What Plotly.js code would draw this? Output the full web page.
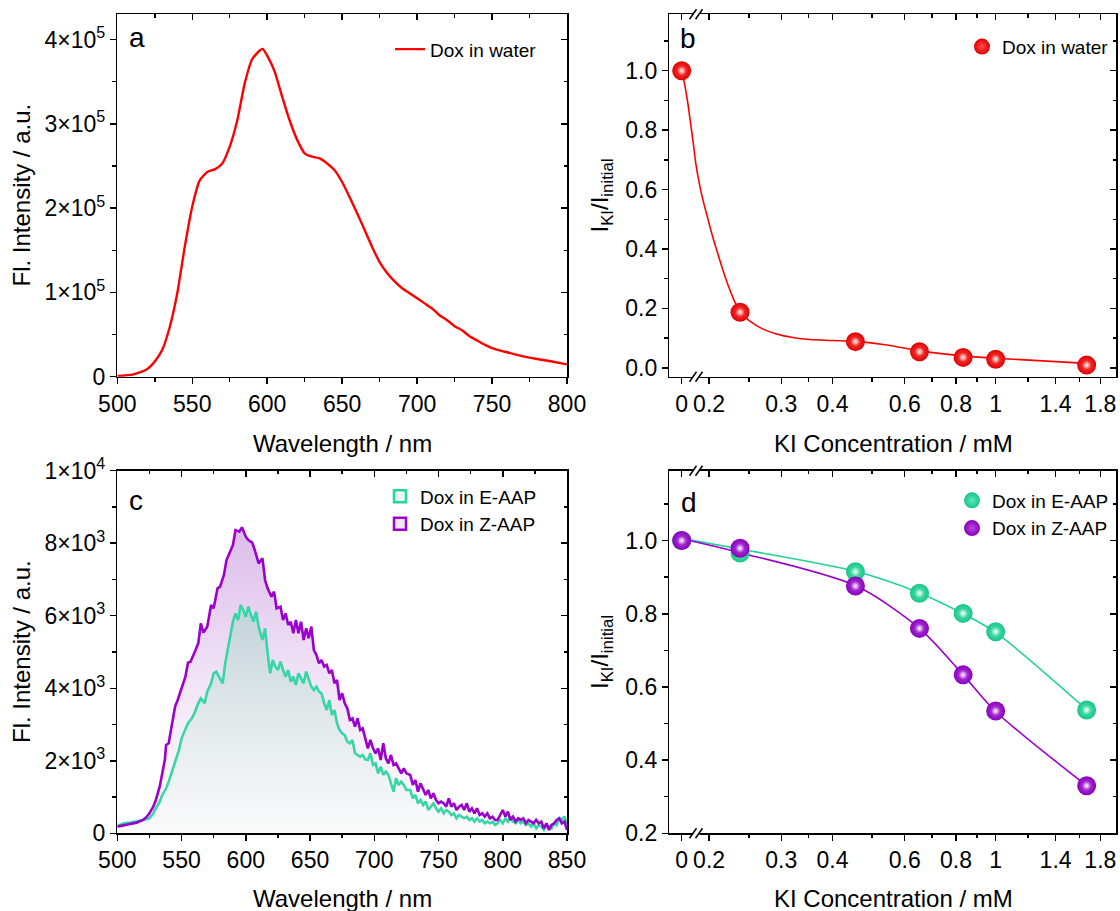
<!DOCTYPE html>
<html><head><meta charset="utf-8">
<script src="https://cdn.plot.ly/plotly-3.0.1.min.js"></script>
<style>html,body{margin:0;padding:0;background:#fff}#chart{width:1120px;height:911px}</style>
</head><body><div id="chart"></div>
<script>
// ---------------- DATA ----------------
// Panel a: Dox in water emission spectrum
const WL_A = [500,505,510,515,520,525,530,535,540,545,550,555,560,565,570,575,580,585,590,595,597,600,605,610,615,620,625,630,635,640,645,650,655,660,665,670,675,680,685,690,695,700,705,710,715,720,725,730,735,740,745,750,760,770,780,790,800];
const FL_WATER = [1000,1500,2400,5000,9000,18000,32000,59000,99000,154000,202000,233000,243000,246000,253000,273000,304000,348000,377000,387000,389000,381000,362000,332000,304000,281000,265000,261000,259000,253000,245000,231000,213000,194000,174000,154000,136000,123000,113000,105000,99000,93000,87000,81000,73000,67000,60000,55000,48000,43000,38000,34000,29000,24500,21000,18000,14600];

// Panel c: Dox in Z-AAP / E-AAP spectra
const WL_Z = [500,505,510,515,520,523,525,528,530,533,535,537,538,540,542,545,547,550,553,555,557,560,563,565,567,570,573,575,578,580,583,585,587,590,592,595,597,600,602,605,607,610,
613,615,617,620,622,624,627,629,631,633,635,637,639,641,643,645,647,649,651,653,655,657,659,661,663,665,667,669,671,673,675,677,679,681,683,685,687,689,691,693,695,697,699,701,703,705,707,709,711,713,715,717,719,721,723,725,
728,730,732,734,736,738,740,742,744,746,748,750,752,754,756,758,760,762,764,766,768,770,772,774,776,778,780,782,784,786,788,790,792,794,796,798,800,802,804,806,808,810,812,814,816,818,820,822,824,826,828,830,832,834,836,838,840,842,844,846,848,850];
const FL_Z_AAP = [184,230,257,294,368,460,551,735,919,1287,1700,2022,2436,2482,2895,3493,3676,3998,4320,4706,4733,4982,5239,5790,5533,5699,6296,6204,6756,6801,7123,7537,7721,7950,8364,8318,8438,8180,8088,8015,7812,7445,
7583,6985,6756,6526,6664,6204,6250,5882,6066,5744,5836,5515,5882,5515,5836,5331,5653,5377,5699,5055,4917,4688,4779,4596,4642,4412,4504,4136,4228,3676,3860,3585,3447,3125,3171,2941,3171,2849,2895,2574,2344,2574,2344,2206,2344,2022,2482,2068,1930,2160,1884,1930,1792,1654,1792,1654,
1608,1333,1470,1149,1379,1195,1057,1195,965,1103,919,827,873,827,735,965,735,827,643,735,781,643,827,597,689,551,689,505,551,460,551,414,460,368,368,505,643,460,597,368,460,322,414,368,414,276,368,322,276,368,276,322,138,276,92,230,276,368,414,276,322,92];

const WL_E = [500,505,510,515,520,523,525,528,530,533,535,538,540,543,545,548,550,553,555,558,560,563,565,568,570,573,575,577,580,582,584,586,588,590,592,594,596,598,600,602,604,606,608,610,
613,615,617,619,621,623,625,627,629,631,633,635,637,639,641,643,645,647,649,651,653,655,657,659,661,663,665,667,669,671,673,675,677,679,681,683,685,687,689,691,693,695,697,699,701,703,705,707,709,711,713,715,717,719,721,723,725,
728,730,732,734,736,738,740,742,744,746,748,750,752,754,756,758,760,762,764,766,768,770,772,774,776,778,780,782,784,786,788,790,792,794,796,798,800,802,804,806,808,810,812,814,816,818,820,822,824,826,828,830,832,834,836,838,840,842,844,846,848,850];
const FL_E_AAP = [202,276,294,322,368,386,414,551,689,873,1057,1241,1425,1746,2022,2298,2619,2849,3033,3171,3309,3585,3722,3585,3906,4136,4412,4458,4274,4136,4688,5055,5469,5837,6066,5882,6296,6158,5974,6250,6020,5837,6112,5699,
5331,5653,4963,4412,4779,4596,4504,4733,4504,4320,4504,4182,4320,4090,4412,4274,4136,4458,4228,4044,3952,4044,3906,3860,3585,3401,3676,3263,3401,3033,2849,2757,2711,2527,2482,2574,2206,2160,2114,2160,2040,2022,2206,1884,1930,1654,1838,1608,1700,1608,1379,1149,1517,1333,1425,1333,1195,
1195,965,1057,827,919,781,873,643,735,827,689,597,689,551,643,597,505,551,414,505,460,414,460,368,414,322,414,322,368,276,322,276,322,230,276,368,276,414,322,460,322,276,368,276,322,230,276,184,276,138,230,184,92,230,184,138,276,230,414,368,460,276];

// Panels b, d: quenching by KI
const KI_CONC = [0, 0.238, 0.455, 0.652, 0.833, 1.0, 1.667];   // mM
const Q_WATER = [1.0, 0.187, 0.088, 0.054, 0.035, 0.029, 0.009];
const Q_E_AAP = [1.0, 0.966, 0.915, 0.856, 0.801, 0.751, 0.537];
const Q_Z_AAP = [1.0, 0.979, 0.876, 0.760, 0.633, 0.534, 0.330];
// fitted curves (x on the broken log axis)
const FIT_B_X = [0.1715, 0.174, 0.177, 0.180, 0.183, 0.186, 0.190, 0.194, 0.198, 0.204, 0.210, 0.216, 0.2224, 0.230, 0.238, 0.252, 0.270, 0.292, 0.320, 0.353, 0.400, 0.455, 0.543, 0.652, 0.833, 1.0, 1.667];
const FIT_B_Y = [1.0, 0.960, 0.902, 0.830, 0.756, 0.680, 0.610, 0.555, 0.509, 0.442, 0.385, 0.330, 0.279, 0.228, 0.189, 0.156, 0.131, 0.114, 0.102, 0.095, 0.092, 0.089, 0.077, 0.057, 0.040, 0.032, 0.015];
const FIT_D_E = [1.006, 0.977, 0.916, 0.857, 0.800, 0.749, 0.538];
const FIT_D_Z = [1.005, 0.967, 0.877, 0.760, 0.633, 0.533, 0.330];

// broken axis: the "0" concentration is drawn at this position of the log axis
const ZERO_POS = 0.1715;
const KI_TICK_VALS = [ZERO_POS, 0.2, 0.3, 0.4, 0.6, 0.8, 1, 1.4, 1.8];
const KI_TICK_TEXT = ['0', '0.2', '0.3', '0.4', '0.6', '0.8', '1', '1.4', '1.8'];
const KI_MINOR = [0.25, 0.35, 0.5, 0.7, 0.9, 1.2, 1.6];

const YA_TICKS = [0, 100000, 200000, 300000, 400000];
const YA_TEXT = ['0', '1×10<sup>5</sup>', '2×10<sup>5</sup>', '3×10<sup>5</sup>', '4×10<sup>5</sup>'];
const YC_TICKS = [0, 2000, 4000, 6000, 8000, 10000];
const YC_TEXT = ['0', '2×10<sup>3</sup>', '4×10<sup>3</sup>', '6×10<sup>3</sup>', '8×10<sup>3</sup>', '1×10<sup>4</sup>'];

// ---------------- LAYOUT HELPERS ----------------
const W = 1120, H = 911;
const PX = p => p / W, PY = p => 1 - p / H;
const FONT = 'Liberation Sans, Arial, sans-serif';
const DOM_L = [PX(117.3), PX(567)], DOM_R = [PX(669.3), PX(1116)];
const DOM_T = [PY(376.7), PY(14.3)], DOM_B = [PY(833.3), PY(470.7)];
const KI_RANGE = [-0.796, -0.796 + (1116 - 669.3) / 410];
const kiPos = c => c === 0 ? ZERO_POS : c;
const KI_X = KI_CONC.map(kiPos);

function mainAxis(extra) {
  return Object.assign({
    showline: true, linecolor: '#000', linewidth: 1.5, mirror: true,
    ticks: 'outside', ticklen: 6, tickwidth: 1.5, tickcolor: '#000',
    showgrid: false, zeroline: false, fixedrange: true, layer: 'above traces',
    tickfont: {family: FONT, size: 23, color: '#000'}
  }, extra);
}
function mirAxis(extra) {
  return Object.assign({
    showline: false, ticks: 'inside', ticklen: 6, tickwidth: 1.5, tickcolor: '#000',
    showticklabels: false, showgrid: false, zeroline: false, fixedrange: true
  }, extra);
}
const minorOut = vals => ({ticks: 'outside', ticklen: 3.5, tickwidth: 1.5, tickcolor: '#000', tickmode: 'array', tickvals: vals});
const minorIn = vals => ({ticks: 'inside', ticklen: 3.5, tickwidth: 1.5, tickcolor: '#000', tickmode: 'array', tickvals: vals});

const XA_MINOR = [525, 575, 625, 675, 725, 775];
const XC_MINOR = [525, 575, 625, 675, 725, 775, 825];
const YA_MINOR = [50000, 150000, 250000, 350000];
const YC_MINOR = [1000, 3000, 5000, 7000, 9000];
const YB_MINOR = [0.1, 0.3, 0.5, 0.7, 0.9, 1.1];
const YD_MINOR = [0.3, 0.5, 0.7, 0.9, 1.1];

const xa = {range: [500, 800], tickmode: 'array', tickvals: [500, 550, 600, 650, 700, 750, 800]};
const ya = {range: [0, 430000], tickmode: 'array', tickvals: YA_TICKS, ticktext: YA_TEXT};
const xb = {type: 'log', range: KI_RANGE, tickmode: 'array', tickvals: KI_TICK_VALS, ticktext: KI_TICK_TEXT};
const yb = {range: [-0.03, 1.19], tickmode: 'array', tickvals: [0, 0.2, 0.4, 0.6, 0.8, 1.0], ticktext: ['0.0', '0.2', '0.4', '0.6', '0.8', '1.0']};
const xc = {range: [500, 850], tickmode: 'array', tickvals: [500, 550, 600, 650, 700, 750, 800, 850]};
const yc = {range: [0, 10000], tickmode: 'array', tickvals: YC_TICKS, ticktext: YC_TEXT};
const yd = {range: [0.2, 1.191], tickmode: 'array', tickvals: [0.2, 0.4, 0.6, 0.8, 1.0], ticktext: ['0.2', '0.4', '0.6', '0.8', '1.0']};

const LEG = {xanchor: 'left', yanchor: 'middle', bgcolor: 'rgba(0,0,0,0)', font: {size: 19, family: FONT, color: '#000'}, tracegroupgap: 0};
const layout = {
  width: W, height: H, margin: {l: 0, r: 0, t: 0, b: 0},
  paper_bgcolor: '#fff', plot_bgcolor: 'rgba(0,0,0,0)',
  font: {family: FONT, color: '#000'},
  xaxis:  mainAxis(Object.assign({domain: DOM_L, anchor: 'y',  minor: minorOut(XA_MINOR)}, xa)),
  yaxis:  mainAxis(Object.assign({domain: DOM_T, anchor: 'x',  minor: minorOut(YA_MINOR)}, ya)),
  xaxis2: mainAxis(Object.assign({domain: DOM_R, anchor: 'y2', minor: minorOut(KI_MINOR)}, xb)),
  yaxis2: mainAxis(Object.assign({domain: DOM_T, anchor: 'x2', minor: minorOut(YB_MINOR)}, yb)),
  xaxis3: mainAxis(Object.assign({domain: DOM_L, anchor: 'y3', minor: minorOut(XC_MINOR)}, xc)),
  yaxis3: mainAxis(Object.assign({domain: DOM_B, anchor: 'x3', minor: minorOut(YC_MINOR)}, yc)),
  xaxis4: mainAxis(Object.assign({domain: DOM_R, anchor: 'y4', minor: minorOut(KI_MINOR)}, xb)),
  yaxis4: mainAxis(Object.assign({domain: DOM_B, anchor: 'x4', minor: minorOut(YD_MINOR)}, yd)),
  // mirrored axes with inward ticks (top / right)
  xaxis5: mirAxis(Object.assign({overlaying: 'x',  anchor: 'y',  side: 'top',   minor: minorIn(XA_MINOR)}, xa)),
  yaxis5: mirAxis(Object.assign({overlaying: 'y',  anchor: 'x',  side: 'right', minor: minorIn(YA_MINOR)}, ya)),
  xaxis6: mirAxis(Object.assign({overlaying: 'x2', anchor: 'y2', side: 'top',   minor: minorIn(KI_MINOR)}, xb)),
  yaxis6: mirAxis(Object.assign({overlaying: 'y2', anchor: 'x2', side: 'right', minor: minorIn(YB_MINOR)}, yb)),
  xaxis7: mirAxis(Object.assign({overlaying: 'x3', anchor: 'y3', side: 'top',   minor: minorIn(XC_MINOR)}, xc)),
  yaxis7: mirAxis(Object.assign({overlaying: 'y3', anchor: 'x3', side: 'right', minor: minorIn(YC_MINOR)}, yc)),
  xaxis8: mirAxis(Object.assign({overlaying: 'x4', anchor: 'y4', side: 'top',   minor: minorIn(KI_MINOR)}, xb)),
  yaxis8: mirAxis(Object.assign({overlaying: 'y4', anchor: 'x4', side: 'right', minor: minorIn(YD_MINOR)}, yd)),
  showlegend: true,
  legend:  Object.assign({x: PX(390), y: PY(49.3)}, LEG),
  legend2: Object.assign({x: PX(962), y: PY(46.7)}, LEG),
  legend3: Object.assign({x: PX(380), y: PY(510.3)}, LEG),
  legend4: Object.assign({x: PX(952), y: PY(514.5)}, LEG),
  annotations: [],
  shapes: []
};

// panel letters
[['a', 127, 37], ['b', 678, 38.5], ['c', 127, 500], ['d', 679, 502]].forEach(([t, x, y]) => {
  layout.annotations.push({text: t, xref: 'paper', yref: 'paper', x: PX(x), y: PY(y), xanchor: 'left', yanchor: 'middle',
    showarrow: false, font: {size: 28, family: FONT, color: '#000'}});
});
// axis titles
function title(text, x, y, angle) {
  layout.annotations.push({text: text, xref: 'paper', yref: 'paper', x: PX(x), y: PY(y), xanchor: 'center', yanchor: 'middle',
    textangle: angle || 0, showarrow: false, font: {size: 24, family: FONT, color: '#000'}});
}
title('Wavelength / nm', 342, 443);
title('Fl. Intensity / a.u.', 21, 195.5, -90);
title('KI Concentration / mM', 893, 443);
title('I<sub>KI</sub>/I<sub>initial</sub>', 601, 195.5, -90);
title('Wavelength / nm', 342, 898);
title('Fl. Intensity / a.u.', 21, 652, -90);
title('KI Concentration / mM', 893, 898);
title('I<sub>KI</sub>/I<sub>initial</sub>', 601, 652, -90);

// axis-break marks
function brk(yp) {
  layout.shapes.push({type: 'rect', xref: 'paper', yref: 'paper', x0: PX(693), x1: PX(699.5), y0: PY(yp + 2.5), y1: PY(yp - 2.5),
    fillcolor: '#fff', line: {width: 0}, layer: 'above'});
  [[689.5, 696.5], [695.5, 702.5]].forEach(([a, b]) => {
    layout.shapes.push({type: 'line', xref: 'paper', yref: 'paper', x0: PX(a), x1: PX(b), y0: PY(yp + 5), y1: PY(yp - 5),
      line: {color: '#000', width: 1.5}, layer: 'above'});
  });
}
brk(14.3); brk(376.7); brk(470.7); brk(833.3);

// ---------------- TRACES ----------------
const RED = '#ff0000', TEAL = '#36d6a6', PURPLE = '#9b00cc', GREEN = '#22d394';
// glossy ball: radial gradient (gradient.color = centre colour) plus a small soft highlight
function ball(x, y, xa_, ya_, edge, centre, name, leg) {
  return [{
    type: 'scatter', mode: 'markers', x: x, y: y, xaxis: xa_, yaxis: ya_, name: name, legend: leg,
    marker: {size: 19, color: edge, gradient: {type: 'radial', color: centre}, line: {width: 0}}, hoverinfo: 'skip'
  }, {
    type: 'scatter', mode: 'markers', x: x, y: y, xaxis: xa_, yaxis: ya_, showlegend: false,
    marker: {size: 9, color: 'rgba(255,255,255,0)', gradient: {type: 'radial', color: 'rgba(255,255,255,0.95)'}, line: {width: 0}}, hoverinfo: 'skip'
  }];
}

const traces = [];
// panel a
traces.push({type: 'scatter', mode: 'lines', x: WL_A, y: FL_WATER, xaxis: 'x', yaxis: 'y', name: 'Dox in water', legend: 'legend',
  line: {color: RED, width: 2.4, shape: 'spline', smoothing: 0.5}});
// panel b
traces.push({type: 'scatter', mode: 'lines', x: FIT_B_X, y: FIT_B_Y, xaxis: 'x2', yaxis: 'y2', showlegend: false,
  line: {color: RED, width: 1.6, shape: 'spline', smoothing: 1}});
traces.push(...ball(KI_X, Q_WATER, 'x2', 'y2', '#e00000', '#ff4a4a', 'Dox in water', 'legend2'));
// panel c
traces.push({type: 'scatter', mode: 'lines', x: WL_Z, y: FL_Z_AAP, xaxis: 'x3', yaxis: 'y3', showlegend: false, fill: 'tozeroy',
  line: {width: 0}, fillgradient: {type: 'vertical', colorscale: [[0, '#ffffff'], [0.5, '#f1e4f7'], [1, '#dcbdea']]}});
traces.push({type: 'scatter', mode: 'lines', x: WL_E, y: FL_E_AAP, xaxis: 'x3', yaxis: 'y3', showlegend: false, fill: 'tozeroy',
  line: {width: 0}, fillgradient: {type: 'vertical', colorscale: [[0, '#fbfbfb'], [0.5, '#e2e9eb'], [1, '#c2d3da']]}});
traces.push({type: 'scatter', mode: 'lines', x: WL_E, y: FL_E_AAP, xaxis: 'x3', yaxis: 'y3', showlegend: false,
  line: {color: TEAL, width: 2.6}});
traces.push({type: 'scatter', mode: 'lines', x: WL_Z, y: FL_Z_AAP, xaxis: 'x3', yaxis: 'y3', showlegend: false,
  line: {color: PURPLE, width: 2.6}});
traces.push({type: 'scatter', mode: 'markers', x: [null], y: [null], xaxis: 'x3', yaxis: 'y3', name: 'Dox in E-AAP', legend: 'legend3',
  marker: {symbol: 'square', size: 12, color: '#eaf7f2', line: {color: '#22d69c', width: 2.5}}});
traces.push({type: 'scatter', mode: 'markers', x: [null], y: [null], xaxis: 'x3', yaxis: 'y3', name: 'Dox in Z-AAP', legend: 'legend3',
  marker: {symbol: 'square', size: 12, color: '#f1e6f6', line: {color: PURPLE, width: 2.5}}});
// panel d
traces.push({type: 'scatter', mode: 'lines', x: KI_X, y: FIT_D_E, xaxis: 'x4', yaxis: 'y4', showlegend: false,
  line: {color: GREEN, width: 1.6, shape: 'spline', smoothing: 0.8}});
traces.push({type: 'scatter', mode: 'lines', x: KI_X, y: FIT_D_Z, xaxis: 'x4', yaxis: 'y4', showlegend: false,
  line: {color: PURPLE, width: 1.6, shape: 'spline', smoothing: 0.8}});
traces.push(...ball(KI_X, Q_E_AAP, 'x4', 'y4', '#16c487', '#5ee8b8', 'Dox in E-AAP', 'legend4'));
traces.push(...ball(KI_X, Q_Z_AAP, 'x4', 'y4', '#8800bb', '#b848e0', 'Dox in Z-AAP', 'legend4'));

// empty traces so that the mirrored (top / right) axes are drawn
[['x5', 'y'], ['x', 'y5'], ['x6', 'y2'], ['x2', 'y6'], ['x7', 'y3'], ['x3', 'y7'], ['x8', 'y4'], ['x4', 'y8']].forEach(([a, b]) => {
  traces.push({type: 'scatter', mode: 'markers', x: [], y: [], xaxis: a, yaxis: b, showlegend: false, hoverinfo: 'skip'});
});

Plotly.newPlot('chart', traces, layout, {staticPlot: true, displayModeBar: false});
</script>
</body></html>
